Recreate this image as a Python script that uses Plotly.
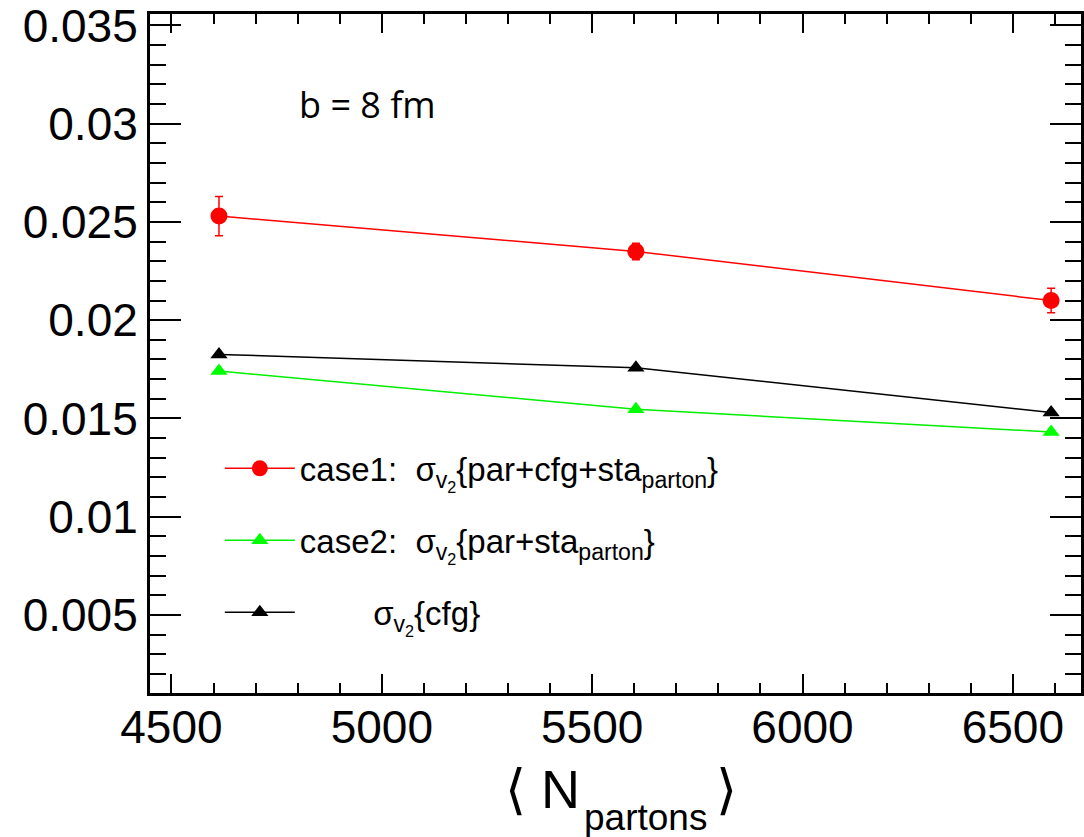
import plotly.graph_objects as go

# ---- data ----
n_partons = [4613, 5604, 6591]
case1_vals = [0.02530, 0.02350, 0.02100]
case1_err = [0.00100, 0.00042, 0.00062]
case2_vals = [0.01741, 0.01547, 0.01431]
cfg_vals = [0.01826, 0.01758, 0.01530]

names = [
    "case1:\u00a0 σ<sub>v<sub>2</sub></sub>{par+cfg+sta<sub>parton</sub>}",
    "case2:\u00a0 σ<sub>v<sub>2</sub></sub>{par+sta<sub>parton</sub>}",
    "\u00a0\u00a0\u00a0\u00a0\u00a0\u00a0\u00a0\u00a0σ<sub>v<sub>2</sub></sub>{cfg}",
]

FONT = "Liberation Sans, Arial, Helvetica, sans-serif"

fig = go.Figure()
fig.add_trace(go.Scatter(
    x=n_partons, y=case1_vals, mode="lines+markers", name=names[0], legendgroup="g1",
    line=dict(color="#ff0000", width=1.5),
    marker=dict(symbol="circle", size=17, color="#ff0000"),
    error_y=dict(type="data", array=case1_err, visible=True, color="#ff0000", thickness=1.5, width=4),
))
fig.add_trace(go.Scatter(
    x=n_partons, y=case2_vals, mode="lines+markers", name=names[1], legendgroup="g2",
    line=dict(color="#00ee00", width=1.5),
    marker=dict(symbol="triangle-up", size=15, color="#00ff00"),
))
fig.add_trace(go.Scatter(
    x=n_partons, y=cfg_vals, mode="lines+markers", name=names[2], legendgroup="g3",
    line=dict(color="#000000", width=1.5),
    marker=dict(symbol="triangle-up", size=15, color="#000000"),
))

fig.update_layout(
    width=1084, height=837,
    margin=dict(l=150, r=0, t=12, b=144),
    paper_bgcolor="white", plot_bgcolor="white",
    font=dict(family=FONT, color="black"),
    showlegend=True,
    legend=dict(
        x=0.075, y=0.372, xanchor="left", yanchor="top",
        bgcolor="rgba(0,0,0,0)", font=dict(size=33, family=FONT),
        itemwidth=70, tracegroupgap=26,
    ),
    annotations=[
        dict(text="b = 8 fm", x=0.158, y=0.867, xref="paper", yref="paper",
             xanchor="left", yanchor="middle", showarrow=False,
             font=dict(size=36, family="Open Sans, sans-serif")),
        dict(text="⟨\u00a0N", x=0.4636, y=-0.141, xref="paper", yref="paper",
             xanchor="right", yanchor="middle", showarrow=False,
             font=dict(size=54, family=FONT)),
        dict(text="partons", x=0.4636, y=-0.183, xref="paper", yref="paper",
             xanchor="left", yanchor="middle", showarrow=False,
             font=dict(size=37, family=FONT)),
        dict(text="⟩", x=0.619, y=-0.141, xref="paper", yref="paper",
             xanchor="center", yanchor="middle", showarrow=False,
             font=dict(size=54, family=FONT)),
    ],
)

fig.update_xaxes(
    range=[4449, 6662], showline=True, linewidth=3, linecolor="black", mirror="ticks",
    ticks="inside", ticklen=19, tickwidth=1.5, tickcolor="black",
    tick0=4500, dtick=500, showgrid=False, zeroline=False,
    tickfont=dict(size=46, family=FONT), ticklabelstandoff=-8,
    ticklabeloverflow="allow",
    minor=dict(ticks="inside", ticklen=10, dtick=100, tickwidth=1.5, tickcolor="black", showgrid=False),
)
fig.update_yaxes(
    range=[0.00103, 0.03558], showline=True, linewidth=3, linecolor="black", mirror="ticks",
    ticks="inside", ticklen=31, tickwidth=1.5, tickcolor="black",
    tick0=0, dtick=0.005, showgrid=False, zeroline=False,
    tickfont=dict(size=46, family=FONT), ticklabelstandoff=0,
    ticklabeloverflow="allow",
    minor=dict(ticks="inside", ticklen=16, dtick=0.001, tickwidth=1.5, tickcolor="black", showgrid=False),
)

fig.write_html("out.html")
